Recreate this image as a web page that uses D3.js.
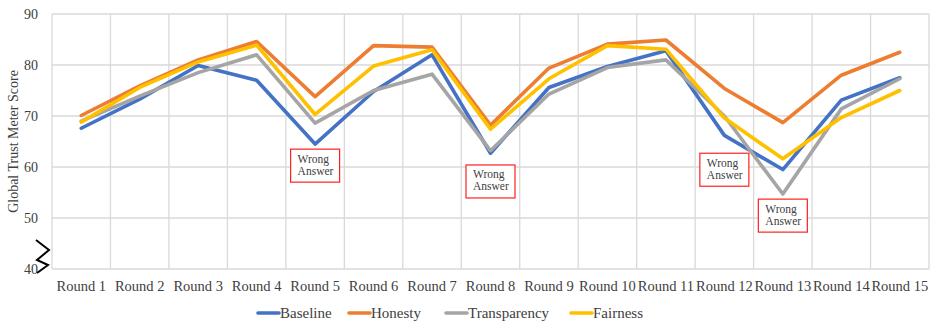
<!DOCTYPE html>
<html>
<head>
<meta charset="utf-8">
<script src="https://cdn.jsdelivr.net/npm/d3@7/dist/d3.min.js"></script>
<style>
  html, body { margin: 0; padding: 0; background: #fff; }
  svg { display: block; }
</style>
</head>
<body>
<svg id="chart" width="930" height="323"></svg>
<script>
// Rounds on the x axis
const rounds = ["Round 1","Round 2","Round 3","Round 4","Round 5","Round 6","Round 7","Round 8",
                "Round 9","Round 10","Round 11","Round 12","Round 13","Round 14","Round 15"];

// Global trust meter score per condition
const baseline     = [67.6, 73.3, 79.9, 77.0, 64.5, 74.8, 82.0, 62.7, 75.6, 79.7, 82.8, 66.2, 59.5, 73.1, 77.5];
const honesty      = [70.1, 75.9, 81.0, 84.6, 73.8, 83.8, 83.5, 68.2, 79.4, 84.1, 84.9, 75.4, 68.7, 78.0, 82.5];
const transparency = [69.0, 73.9, 78.5, 82.0, 68.6, 75.0, 78.2, 63.2, 74.3, 79.5, 81.0, 70.0, 54.7, 71.4, 77.3];
const fairness     = [68.8, 75.6, 80.6, 83.9, 70.3, 79.8, 83.0, 67.4, 77.3, 83.8, 83.1, 69.6, 61.6, 69.7, 75.0];

const seriesNames  = ["Baseline", "Honesty", "Transparency", "Fairness"];
const seriesColors = ["#4472C4", "#ED7D31", "#A5A5A5", "#FFC000"];
const seriesValues = [baseline, honesty, transparency, fairness];

const yTicks = [40, 50, 60, 70, 80, 90];

// "Wrong Answer" call-outs: round and the score level of the box's top edge
const noteRounds = ["Round 5", "Round 8", "Round 12", "Round 13"];
const noteLevels = [63.5, 60.4, 62.7, 53.7];
const noteText   = ["Wrong", "Answer"];

const svg = d3.select("#chart");
const margin = { left: 52, right: 1, top: 14, bottom: 54 };
const W = 930, H = 323;
const plotW = W - margin.left - margin.right;
const plotH = H - margin.top - margin.bottom;

const x = d3.scaleBand().domain(rounds).range([margin.left, margin.left + plotW]);
const y = d3.scaleLinear().domain([40, 90]).range([margin.top + plotH, margin.top]);

const serif = "'Liberation Serif', 'Times New Roman', serif";
const g = svg.append("g");

// Horizontal gridlines
g.append("g").selectAll("line").data(yTicks).join("line")
  .attr("x1", margin.left).attr("x2", margin.left + plotW)
  .attr("y1", d => y(d)).attr("y2", d => y(d))
  .attr("stroke", "#d9d9d9").attr("stroke-width", 1.3);

// Vertical gridlines on category boundaries
const bounds = rounds.map(r => x(r)).concat([x(rounds[rounds.length - 1]) + x.bandwidth()]);
g.append("g").selectAll("line").data(bounds).join("line")
  .attr("x1", d => d).attr("x2", d => d)
  .attr("y1", y(40)).attr("y2", y(90))
  .attr("stroke", "#d9d9d9").attr("stroke-width", 1.3);

// Y axis tick labels
const yAxis = d3.axisLeft(y).tickValues(yTicks).tickSize(0).tickPadding(14);
const yg = g.append("g").attr("transform", `translate(${margin.left},0)`).call(yAxis);
yg.select(".domain").remove();
yg.selectAll("text").attr("font-family", serif).attr("font-size", 14).attr("fill", "#404040");

// X axis category labels
const xAxis = d3.axisBottom(x).tickSize(0).tickPadding(12);
const xg = g.append("g").attr("transform", `translate(0,${y(40)})`).call(xAxis);
xg.select(".domain").remove();
xg.selectAll("text").attr("font-family", serif).attr("font-size", 14.5).attr("fill", "#404040");

// Y axis title
g.append("text")
  .attr("transform", `translate(18,${(y(40) + y(90)) / 2}) rotate(-90)`)
  .attr("text-anchor", "middle")
  .attr("font-family", serif).attr("font-size", 14).attr("fill", "#404040")
  .text("Global Trust Meter Score");

// Axis break mark near the bottom of the value axis
const brk = d3.line()([[36, 240], [49, 250], [37, 260], [48, 265], [37, 273]]);
g.append("path").attr("d", brk).attr("fill", "none").attr("stroke", "#000").attr("stroke-width", 2);

// Series lines
const line = d3.line()
  .x((d, i) => x(rounds[i]) + x.bandwidth() / 2)
  .y(d => y(d));
g.append("g").selectAll("path").data(seriesValues).join("path")
  .attr("d", d => line(d))
  .attr("fill", "none")
  .attr("stroke", (d, i) => seriesColors[i])
  .attr("stroke-width", 3.6)
  .attr("stroke-linejoin", "round")
  .attr("stroke-linecap", "round");

// Call-out boxes
const boxW = 49, boxH = 33;
const notes = g.append("g").selectAll("g").data(noteRounds).join("g")
  .attr("transform", (r, i) =>
    `translate(${x(r) + x.bandwidth() / 2 - boxW / 2},${y(noteLevels[i])})`);
notes.append("rect")
  .attr("width", boxW).attr("height", boxH)
  .attr("fill", "#fff").attr("stroke", "#ff2020").attr("stroke-width", 1.2);
notes.selectAll("text").data(noteText).join("text")
  .attr("x", 7).attr("y", (d, i) => 13.5 + i * 12)
  .attr("font-family", serif).attr("font-size", 11.5).attr("fill", "#404040")
  .text(d => d);

// Legend
const legendX = [258, 349, 446, 571];
const leg = g.append("g").selectAll("g").data(seriesNames).join("g")
  .attr("transform", (d, i) => `translate(${legendX[i]},313)`);
leg.append("line").attr("x1", 0).attr("x2", 21)
  .attr("stroke", (d, i) => seriesColors[i]).attr("stroke-width", 3.6)
  .attr("stroke-linecap", "round");
leg.append("text").attr("x", 22).attr("dy", "0.33em")
  .attr("font-family", serif).attr("font-size", 15).attr("fill", "#404040")
  .text(d => d);
</script>
</body>
</html>
